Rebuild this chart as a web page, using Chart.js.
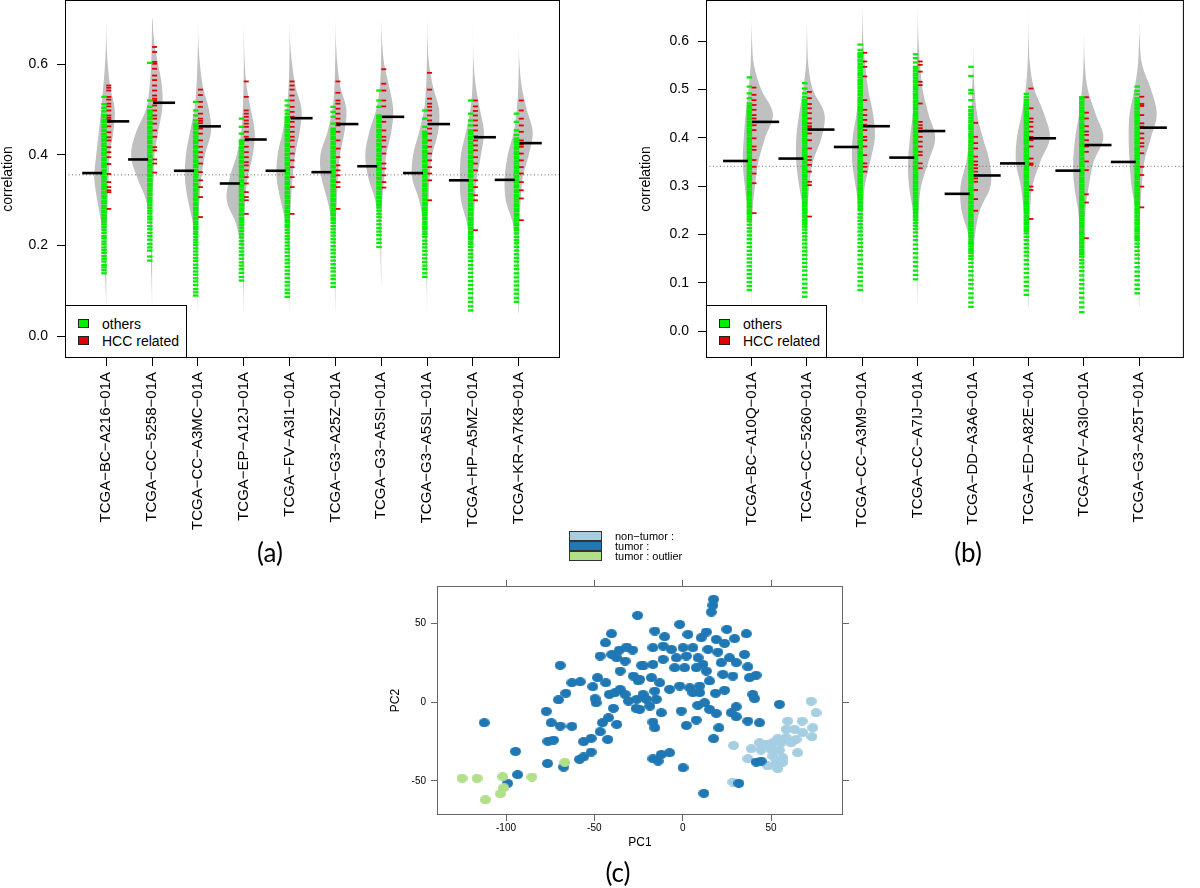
<!DOCTYPE html>
<html>
<head>
<meta charset="utf-8">
<title>Correlation beanplots and PCA</title>
<script src="https://cdn.jsdelivr.net/npm/chart.js@4.4.1/dist/chart.umd.min.js"></script>
<style>
  body { margin: 0; background: #fff; font-family: "Liberation Sans", Arial, sans-serif; }
  #page { position: relative; width: 1200px; height: 888px; overflow: hidden; }
  canvas { position: absolute; }
  .legend { position: absolute; box-sizing: border-box; border: 1px solid #000; background: #fff; font-size: 14px; color: #000; }
  .legend .sw { position: absolute; width: 11px; height: 9px; box-sizing: border-box; border: 1px solid #222; }
  .legend .txt { position: absolute; line-height: 16px; white-space: nowrap; }
  .panel { position: absolute; font-family: Lato, "Open Sans", sans-serif; font-size: 26px; transform: translate(-50%, -50%); }
  .pcaleg { position: absolute; font-size: 11px; line-height: 10px; white-space: nowrap; }
  .pcaleg .blk { position: absolute; left: 0; width: 33px; height: 10px; box-sizing: border-box; border: 1px solid #333; }
  .pcaleg .lbl { position: absolute; left: 46px; }
</style>
</head>
<body>
<div id="page">
  <canvas id="beanA" width="600" height="565" style="left:0;top:-20px"></canvas>
  <canvas id="beanB" width="600" height="565" style="left:600px;top:-20px"></canvas>
  <canvas id="pca" width="500" height="300" style="left:380px;top:560px"></canvas>

  <div class="legend" style="left:65px;top:305px;width:122px;height:53px">
    <div class="sw" style="left:12px;top:13px;background:#00ee00"></div>
    <div class="txt" style="left:36px;top:10px">others</div>
    <div class="sw" style="left:12px;top:30px;background:#e00000"></div>
    <div class="txt" style="left:36px;top:27px">HCC related</div>
  </div>
  <div class="legend" style="left:706px;top:305px;width:121px;height:53px">
    <div class="sw" style="left:12px;top:13px;background:#00ee00"></div>
    <div class="txt" style="left:36px;top:10px">others</div>
    <div class="sw" style="left:12px;top:30px;background:#e00000"></div>
    <div class="txt" style="left:36px;top:27px">HCC related</div>
  </div>

  <div class="pcaleg" style="left:569px;top:531px">
    <div class="blk" style="top:0;background:#a6cee3"></div>
    <div class="blk" style="top:10px;background:#1f78b4"></div>
    <div class="blk" style="top:20px;background:#b2df8a"></div>
    <div class="lbl" style="top:0">non−tumor :</div>
    <div class="lbl" style="top:10px">tumor :</div>
    <div class="lbl" style="top:20px">tumor : outlier</div>
  </div>

  <div class="panel" style="left:270px;top:552px">(a)</div>
  <div class="panel" style="left:968px;top:552px">(b)</div>
  <div class="panel" style="left:618px;top:872px">(c)</div>
</div>

<script>
// ---- panel (a): samples ----
const namesA = ['TCGA−BC−A216−01A', 'TCGA−CC−5258−01A', 'TCGA−CC−A3MC−01A', 'TCGA−EP−A12J−01A', 'TCGA−FV−A3I1−01A',
  'TCGA−G3−A25Z−01A', 'TCGA−G3−A5SI−01A', 'TCGA−G3−A5SL−01A', 'TCGA−HP−A5MZ−01A', 'TCGA−KR−A7K8−01A'];
const yTicksA = [0, 0.2, 0.4, 0.6];
const overallA = 0.356;
const medOthersA = [0.360, 0.390, 0.365, 0.337, 0.365, 0.362, 0.375, 0.360, 0.344, 0.345];
const medHccA = [0.474, 0.515, 0.463, 0.434, 0.481, 0.468, 0.484, 0.468, 0.439, 0.426];

// correlation of each "others" gene (green bean lines)
const othersA = [
  [.139,.146,.152,.157,.165,.171,.177,.184,.190,.196,.203,.209,.216,.221,.228,.235,.241,.247,.253,.258,.262,.267,.273,.277,.283,.288,.294,.298,.304,.309,.315,.319,.325,.330,.335,.341,.346,.351,.357,.362,.367,.373,.378,.383,.389,.393,.399,.404,.410,.414,.420,.425,.431,.435,.441,.446,.452,.456,.462,.467,.473,.477,.483,.488,.496,.504,.512,.528],
  [.167,.176,.189,.196,.204,.213,.221,.228,.236,.243,.251,.258,.264,.271,.277,.283,.289,.295,.300,.305,.311,.315,.321,.326,.332,.336,.342,.347,.353,.357,.363,.368,.374,.378,.384,.389,.395,.399,.405,.410,.416,.420,.426,.431,.437,.441,.447,.452,.458,.462,.468,.473,.479,.483,.489,.494,.498,.506,.520,.603],
  [.090,.097,.104,.113,.121,.128,.136,.143,.151,.158,.166,.173,.180,.187,.194,.201,.207,.213,.219,.226,.231,.237,.241,.247,.252,.258,.262,.268,.273,.279,.283,.289,.294,.300,.304,.310,.315,.321,.325,.331,.336,.342,.346,.352,.357,.363,.367,.373,.378,.384,.388,.394,.399,.405,.409,.415,.420,.426,.430,.436,.441,.447,.451,.457,.462,.466,.469,.476,.487,.498,.517],
  [.123,.131,.140,.148,.156,.163,.171,.179,.187,.195,.203,.210,.218,.225,.232,.239,.245,.251,.256,.261,.267,.271,.277,.282,.288,.292,.298,.303,.309,.313,.319,.324,.330,.334,.340,.345,.351,.355,.361,.366,.372,.376,.382,.387,.393,.397,.403,.408,.414,.418,.424,.429,.432,.447,.462,.480],
  [.087,.095,.103,.112,.120,.129,.137,.145,.153,.161,.169,.177,.185,.192,.200,.207,.214,.221,.228,.235,.241,.246,.252,.256,.262,.267,.273,.277,.283,.288,.294,.298,.304,.309,.315,.319,.325,.330,.336,.340,.346,.351,.357,.361,.367,.372,.378,.382,.388,.393,.399,.403,.409,.414,.420,.424,.430,.435,.441,.445,.451,.456,.462,.466,.472,.477,.481,.484,.491,.498,.509,.520],
  [.109,.117,.126,.134,.143,.151,.159,.167,.175,.183,.191,.199,.207,.214,.222,.229,.236,.243,.250,.256,.261,.267,.271,.277,.282,.288,.292,.298,.303,.309,.313,.319,.324,.330,.334,.340,.345,.351,.355,.361,.366,.372,.376,.382,.387,.393,.397,.403,.408,.414,.418,.424,.429,.435,.439,.445,.450,.455,.458,.469,.484,.495,.506],
  [.197,.206,.214,.223,.231,.239,.247,.255,.263,.270,.277,.284,.289,.293,.298,.304,.308,.314,.319,.325,.329,.335,.340,.346,.350,.356,.361,.367,.371,.377,.382,.388,.392,.398,.403,.409,.413,.419,.424,.430,.434,.440,.445,.451,.455,.461,.466,.472,.476,.481,.484,.487,.506,.520,.542],
  [.131,.139,.148,.156,.164,.172,.180,.188,.196,.204,.211,.219,.226,.231,.237,.241,.247,.252,.258,.262,.268,.273,.279,.283,.289,.294,.300,.304,.310,.315,.321,.325,.331,.336,.342,.346,.352,.357,.363,.367,.373,.378,.384,.388,.394,.399,.405,.409,.415,.420,.426,.430,.436,.441,.445,.447,.451,.462,.480,.498],
  [.057,.066,.076,.085,.095,.104,.113,.122,.131,.140,.149,.157,.166,.174,.182,.190,.197,.204,.209,.215,.219,.225,.230,.236,.240,.246,.251,.257,.261,.267,.272,.278,.282,.288,.293,.299,.303,.309,.314,.320,.324,.330,.335,.341,.345,.351,.356,.362,.366,.372,.377,.383,.387,.393,.398,.404,.408,.414,.419,.425,.429,.435,.440,.446,.450,.454,.465,.476,.491,.520],
  [.076,.085,.094,.103,.112,.121,.130,.139,.148,.156,.165,.173,.181,.189,.197,.205,.212,.219,.227,.234,.239,.245,.249,.255,.260,.266,.270,.276,.281,.287,.291,.297,.302,.308,.312,.318,.323,.329,.333,.339,.344,.350,.354,.360,.365,.371,.375,.381,.386,.392,.396,.402,.407,.413,.417,.423,.428,.432,.436,.444,.454,.473,.491]
];
// correlation of each HCC related gene (red bean lines)
const hccA = [
  [.281,.318,.322,.329,.340,.358,.380,.395,.406,.417,.432,.439,.450,.463,.473,.478,.482,.487,.498,.507,.513,.522,.528,.542,.548,.553],
  [.361,.381,.390,.410,.417,.440,.454,.469,.480,.487,.498,.509,.520,.524,.531,.542,.553,.565,.575,.590,.601,.605,.627,.638],
  [.263,.307,.329,.344,.362,.381,.395,.406,.418,.432,.447,.458,.463,.470,.475,.480,.491,.506,.517,.532,.544],
  [.270,.300,.307,.318,.337,.351,.366,.377,.384,.395,.406,.418,.432,.440,.451,.462,.469,.476,.484,.491,.498,.528,.562],
  [.270,.329,.351,.373,.388,.403,.418,.432,.440,.451,.462,.473,.484,.495,.506,.520,.531,.544,.553,.562],
  [.281,.329,.340,.355,.366,.377,.395,.414,.432,.451,.465,.470,.480,.491,.502,.513,.520,.537,.562],
  [.328,.340,.355,.370,.381,.403,.418,.432,.440,.454,.473,.484,.507,.520,.542,.557,.589],
  [.300,.344,.359,.373,.388,.403,.418,.432,.447,.458,.468,.476,.487,.498,.506,.513,.524,.544,.581],
  [.234,.300,.311,.329,.344,.366,.381,.395,.410,.421,.432,.441,.454,.465,.476,.487,.497,.507,.520],
  [.256,.304,.322,.340,.359,.373,.388,.403,.418,.423,.426,.432,.451,.465,.480,.498,.520]
];

// bean densities, read at these correlation levels
const beanLevels = [0.05, 0.10, 0.15, 0.20, 0.25, 0.30, 0.35, 0.40, 0.45, 0.50, 0.55, 0.60, 0.65, 0.70];
const densOthersA = [
  [0,0.5,1.5,2.5,5,9,12,10,7.5,5,3,1.2,0.3,0],
  [0,0.3,1,1.5,2.5,6,15,21,16,6,2.5,1,0.3,0],
  [0,0.5,1.5,2.5,5,10,13,12,8,3.5,1.5,0.5,0,0],
  [0,0.5,1.5,3,8,17,14,7,2.5,1,0.3,0,0,0],
  [0,0.5,1,2,4,9,13,12,7,3,1,0.3,0,0],
  [0,0.5,1,2,3.5,8,14,15,8,3,1,0.3,0,0],
  [0,0,0.5,1,2.5,6,13,16,12,5,1.5,0.3,0,0],
  [0,0.3,1,2,4,8,15,14,8,3,1,0.3,0,0],
  [0.5,1,1.5,3,6,12,13,12,7,2.5,0.5,0,0,0],
  [0.3,1,1.5,3,6,13,14,11,5,2,0.5,0,0,0]
];
const densHccA = [
  [0,0,0,0,0.5,1.5,2.5,3.5,7,8.5,4,1.5,0.3,0],
  [0,0,0,0,0,0,1.5,2.5,6,10,10,6,2,0.5],
  [0,0,0,0,0.5,1.5,3.5,7,13,11,5,2,0.5,0],
  [0,0,0,0,0.5,1.5,4,9,11,7,3,1,0.3,0],
  [0,0,0,0,0.3,1.5,3,5.5,10,12,6,2.5,0.5,0],
  [0,0,0,0,0.3,1.5,2.5,4.5,9,11,5,2,0.5,0],
  [0,0,0,0,0,1,3,5,10,12,8,3,0.8,0],
  [0,0,0,0,0.3,1.5,2.5,5,11,12,6,2,0.5,0],
  [0,0,0,0.3,1,2,4,8,11,7,3,0.8,0,0],
  [0,0,0,0,0.5,2,4,10,14,8,3,0.8,0,0]
];

// ---- panel (b): samples ----
const namesB = ['TCGA−BC−A10Q−01A', 'TCGA−CC−5260−01A', 'TCGA−CC−A3M9−01A', 'TCGA−CC−A7IJ−01A',
  'TCGA−DD−A3A6−01A', 'TCGA−ED−A82E−01A', 'TCGA−FV−A3I0−01A', 'TCGA−G3−A25T−01A'];
const yTicksB = [0, 0.1, 0.2, 0.3, 0.4, 0.5, 0.6];
const overallB = 0.341;
const medOthersB = [0.352, 0.357, 0.381, 0.359, 0.284, 0.347, 0.332, 0.350];
const medHccB = [0.433, 0.417, 0.424, 0.414, 0.322, 0.399, 0.385, 0.421];

const othersB = [
  [.085,.093,.101,.110,.118,.126,.134,.142,.150,.158,.166,.174,.182,.190,.198,.206,.213,.220,.227,.232,.237,.242,.246,.251,.256,.260,.265,.270,.274,.279,.284,.288,.293,.298,.302,.307,.312,.316,.321,.326,.330,.335,.340,.344,.349,.354,.358,.363,.368,.372,.377,.382,.386,.391,.396,.400,.405,.410,.414,.419,.424,.428,.433,.438,.442,.447,.452,.456,.461,.466,.471,.482,.492,.506,.525],
  [.071,.080,.089,.098,.107,.116,.125,.133,.141,.149,.157,.165,.173,.181,.189,.196,.203,.210,.216,.221,.225,.230,.235,.239,.244,.249,.253,.258,.263,.267,.272,.277,.281,.286,.291,.295,.300,.305,.309,.314,.319,.323,.328,.333,.337,.342,.347,.351,.356,.361,.365,.370,.375,.379,.384,.389,.393,.398,.403,.407,.412,.417,.421,.426,.431,.435,.440,.445,.449,.454,.459,.463,.468,.473,.478,.484,.492,.502,.513],
  [.085,.094,.103,.112,.121,.130,.139,.148,.157,.166,.174,.182,.190,.198,.206,.214,.221,.228,.235,.242,.250,.254,.259,.264,.268,.273,.278,.282,.287,.292,.296,.301,.306,.310,.315,.320,.324,.329,.334,.338,.343,.348,.352,.357,.362,.366,.371,.376,.380,.385,.390,.394,.399,.404,.408,.413,.418,.422,.427,.432,.436,.441,.446,.450,.455,.460,.464,.469,.474,.478,.483,.488,.492,.497,.502,.506,.511,.516,.520,.525,.530,.534,.539,.544,.548,.553,.558,.562,.567,.571,.575,.582,.593],
  [.107,.116,.125,.134,.143,.152,.161,.170,.179,.188,.196,.204,.211,.218,.224,.230,.235,.239,.244,.249,.253,.258,.263,.267,.272,.277,.281,.286,.291,.295,.300,.305,.309,.314,.319,.323,.328,.333,.337,.342,.347,.351,.356,.361,.365,.370,.375,.379,.384,.389,.393,.398,.403,.407,.412,.417,.421,.426,.431,.435,.440,.445,.449,.454,.459,.463,.468,.473,.477,.482,.487,.491,.496,.501,.505,.510,.515,.519,.524,.529,.533,.538,.543,.547,.556,.565,.573],
  [.050,.059,.069,.078,.088,.097,.106,.115,.124,.133,.141,.149,.155,.161,.166,.170,.175,.180,.184,.189,.194,.198,.203,.208,.212,.217,.222,.226,.231,.236,.240,.245,.250,.254,.259,.264,.268,.273,.278,.282,.287,.292,.296,.301,.306,.310,.315,.320,.324,.329,.334,.338,.343,.348,.352,.357,.362,.366,.371,.376,.380,.385,.390,.394,.399,.404,.408,.413,.418,.422,.427,.432,.436,.441,.446,.450,.455,.458,.464,.478,.492,.499,.528,.547],
  [.075,.084,.093,.102,.111,.120,.129,.138,.147,.156,.164,.172,.180,.188,.195,.202,.207,.211,.216,.221,.225,.230,.235,.239,.244,.249,.253,.258,.263,.267,.272,.277,.281,.286,.291,.295,.300,.305,.309,.314,.319,.323,.328,.333,.337,.342,.347,.351,.356,.361,.365,.370,.375,.379,.384,.389,.393,.398,.403,.407,.412,.417,.421,.426,.431,.435,.440,.445,.449,.454,.459,.463,.468,.473,.478,.484,.491],
  [.039,.049,.059,.069,.079,.088,.097,.106,.115,.124,.132,.140,.147,.154,.159,.163,.168,.173,.177,.182,.187,.191,.196,.201,.205,.210,.215,.219,.224,.229,.233,.238,.243,.247,.252,.257,.261,.266,.271,.275,.280,.285,.289,.294,.299,.303,.308,.313,.317,.322,.327,.331,.336,.341,.345,.350,.355,.359,.364,.369,.373,.378,.383,.387,.392,.397,.401,.406,.411,.415,.420,.425,.429,.434,.439,.443,.448,.453,.457,.462,.467,.471,.475,.480,.484],
  [.078,.087,.096,.105,.114,.123,.132,.141,.150,.158,.166,.174,.181,.188,.193,.197,.202,.207,.211,.216,.221,.225,.230,.235,.239,.244,.249,.253,.258,.263,.267,.272,.277,.281,.286,.291,.295,.300,.305,.309,.314,.319,.323,.328,.333,.337,.342,.347,.351,.356,.361,.365,.370,.375,.379,.384,.389,.393,.398,.403,.407,.412,.417,.421,.426,.431,.435,.440,.445,.449,.454,.459,.463,.468,.473,.477,.482,.490,.497,.506]
];
const hccB = [
  [.244,.306,.326,.340,.354,.375,.382,.399,.416,.426,.433,.440,.447,.458,.468,.478,.489,.504],
  [.237,.302,.309,.330,.344,.354,.361,.378,.395,.409,.420,.424,.430,.440,.451,.461,.470,.482,.495],
  [.330,.340,.347,.364,.382,.395,.402,.416,.427,.437,.447,.458,.478,.527,.547,.558,.576],
  [.337,.347,.364,.371,.382,.392,.402,.413,.420,.426,.433,.471,.509,.516,.537,.551,.558],
  [.249,.273,.292,.309,.316,.323,.330,.337,.344,.351,.361,.378,.389,.402,.431],
  [.232,.292,.299,.344,.347,.357,.382,.395,.402,.413,.423,.433,.440,.461,.502],
  [.192,.266,.283,.333,.351,.371,.382,.395,.406,.413,.424,.440,.452,.484],
  [.256,.299,.323,.340,.368,.382,.389,.399,.409,.423,.430,.447,.466,.470,.485]
];
const densOthersB = [
  [0,0.5,1,2,4,7,9,8,6,3,1,0.3,0,0],
  [0,0.5,1,2,4,8,11,11,8,4,1,0.3,0,0],
  [0,0.5,1,2,3.5,7,10.5,10,6,3,1.5,0.5,0,0],
  [0,0.5,1,2,5,9,10,8,5,2.5,1,0.3,0,0],
  [0.3,1,2,5,12,13,7,4,2,1,0.3,0,0,0],
  [0.3,0.8,1.5,2.5,5,8,13,12,7,3,1,0.3,0,0],
  [0.5,1,2.5,4,6,10,11,9,5,2,0.5,0,0,0],
  [0.3,0.8,1.5,2.5,4,8,10,11,10,5,1.5,0.3,0,0]
];
const densHccB = [
  [0,0,0,0,1,3.5,7,14,22,10,2.5,0.5,0,0],
  [0,0,0,0,0.5,2.5,6,15,18,6,1.5,0.3,0,0],
  [0,0,0,0,0.5,2.5,8,13,11,6,3,1,0.3,0],
  [0,0,0,0,1,3.5,11,18,11,5,2.5,0.8,0.2,0],
  [0,0,0.3,2,7,18,17,10,4,1.5,0.3,0,0,0],
  [0,0,0,0.3,1.5,4,12,22,16,6,1.5,0.3,0,0],
  [0,0,0,0.5,1.5,5,10,20,12,4,1,0.2,0,0],
  [0,0,0,0,1,2.5,5,12,18,12,3,0.5,0,0]
];

// ---- panel (c): PCA scores ----
const nonTumorPC1 = [72.7,75.5,59.5,67.6,73.6,58.6,63.3,67.9,73.2,53.8,58.6,64.2,47.3,51.0,55.7,61.4,28.8,38.8,44.4,50.1,54.8,65.1,36.9,51.0,56.7,48.2,53.8,56.7,28.4,52.9,43.5];
const nonTumorPC2 = [0.5,-6.8,-12.1,-12.1,-16.3,-17.3,-17.3,-19.4,-22.0,-23.2,-22.6,-23.7,-26.8,-25.8,-25.8,-25.8,-27.5,-29.6,-30.4,-30.0,-30.4,-32.1,-35.9,-34.2,-35.3,-40.5,-42.2,-38.0,-50.7,-38.4,-25.8];
const tumorPC1 = [-112.3,-94.6,-93.4,-99.1,-76.5,-67.4,-77.2,-74.4,-69.3,-62.7,-76.3,-73.1,-69.3,-70.3,-66.1,-62.7,-58.0,-58.4,-56.1,-51.8,-56.1,-51.8,-46.7,-42.4,-45.4,-42.0,-37.3,-39.2,-49.0,-49.6,-50.9,-48.2,-43.5,-46.7,-43.7,-40.3,-41.5,-38.3,-35.4,-32.6,-30.7,-26.4,-26.0,-35.4,-32.6,-37.3,-40.1,-35.8,-31.7,-28.3,-27.9,-25.1,-25.5,-23.2,
  17.5,17.1,16.2,-1.7,-15.8,3.0,13.4,25.0,36.0,-10.2,10.5,19.0,29.4,23.7,-16.8,-11.1,-6.4,0.2,5.8,14.3,19.9,35.0,-22.4,-16.8,-11.1,-3.6,2.1,8.7,11.5,21.8,26.5,30.3,36.9,41.6,37.8,-4.5,1.1,7.7,13.4,22.8,28.4,-24.3,-17.7,-13.0,-7.4,-1.7,4.0,9.6,15.2,-22.4,-15.8,-20.5,-14.9,5.8,9.6,18.6,23.7,39.7,40.7,-24.3,-18.6,-12.1,-0.8,8.6,12.4,15.2,19.0,27.5,30.3,30.3,54.8,-16.8,-15.8,2.1,7.7,20.5,36.9,43.5,17.5,-16.8,-12.1,-7.4,-13.9,0.2,41.6,44.4,31.8,12.0];
const tumorPC2 = [-13.1,-31.3,-46.0,-51.5,-38.9,-41.2,-5.9,-13.1,-15.2,-15.4,-24.9,-24.1,23.2,1.4,5.5,12.2,12.8,-36.3,-34.8,-31.7,-25.1,-23.0,-18.8,-23.7,-13.1,-9.9,-14.2,-4.0,-0.5,2.1,9.7,15.4,12.2,29.1,37.5,43.2,4.8,5.9,8.0,4.8,0.6,-4.0,1.7,19.6,25.9,28.0,30.1,32.9,34.8,32.9,16.4,13.3,54.8,23.2,
  65.0,61.2,56.9,49.1,44.9,42.8,44.3,46.0,43.2,41.3,40.7,39.6,40.1,37.1,34.4,35.4,33.3,34.4,34.4,33.3,31.6,30.1,22.8,23.8,27.0,28.0,29.1,28.0,23.8,24.9,28.0,24.9,22.3,16.9,15.4,21.7,21.7,21.7,19.6,17.5,16.4,14.3,15.4,12.2,8.0,10.1,9.0,10.1,13.3,4.8,6.9,1.7,1.7,5.9,5.9,5.5,7.4,4.8,2.1,-4.7,-2.6,-6.8,-5.7,-2.1,-0.5,-4.7,-7.2,-6.8,-3.0,-9.3,-1.5,-12.7,-16.3,-14.8,-11.4,-16.3,-12.1,-13.1,-23.2,-35.9,-33.2,-32.1,-37.4,-41.6,-38.0,-37.4,-51.5,-57.8];
const outlierPC1 = [-124.9,-116.4,-101.9,-85.3,-101.3,-103.2,-111.7,-66.7];
const outlierPC2 = [-48.3,-48.3,-47.3,-47.5,-54.3,-58.1,-61.9,-38.2];
const pcaTicksX = [-100, -50, 0, 50];
const pcaTicksY = [-50, 0, 50];

Chart.defaults.font.family = '"Liberation Sans", Arial, sans-serif';
Chart.defaults.color = '#000';

// R-style box round the plotting region
const boxPlugin = {
  id: 'box',
  afterDraw(chart, args, opts) {
    const {ctx, chartArea: a} = chart;
    ctx.save();
    ctx.strokeStyle = opts.color || '#000';
    ctx.lineWidth = 1;
    ctx.strokeRect(a.left + 0.5, a.top + 0.5, a.right - a.left - 1, a.bottom - a.top - 1);
    ctx.restore();
  }
};

const fitY = w => s => { s.width = w; s.paddingTop = 0; s.paddingBottom = 0; };
const fitX = h => s => { s.height = h; s.paddingLeft = 0; s.paddingRight = 0; };

function beanChart(id, p) {
  const canvas = document.getElementById(id);
  const W = canvas.width, H = canvas.height;
  const pxPerUnit = (p.right - p.left) / (p.xMax - p.xMin);
  const u = px => px / pxPerUnit;
  const beanWidth = 1;
  const datasets = [];

  p.names.forEach((name, i) => {
    const c = i + 1, outline = [];
    for (let k = beanLevels.length - 1; k >= 0; k--)
      outline.push({x: c - u(p.densL[i][k] * beanWidth), y: beanLevels[k]});
    for (let k = 0; k < beanLevels.length; k++)
      outline.push({x: c + u(p.densR[i][k] * beanWidth), y: beanLevels[k]});
    datasets.push({data: outline, showLine: true, fill: 'shape', backgroundColor: '#c0c0c0',
      borderColor: 'rgba(0,0,0,0)', borderWidth: 0, pointRadius: 0, tension: 0.35, order: 4});
  });

  datasets.push({data: [{x: p.xMin, y: p.overall}, {x: p.xMax, y: p.overall}], showLine: true,
    borderColor: '#707070', borderWidth: 1, borderDash: [1, 2.5], pointRadius: 0, order: 3});

  const green = [], red = [];
  p.others.forEach((vals, i) => vals.forEach(v => green.push({x: i + 1 + u(-2.25), y: v})));
  p.hcc.forEach((vals, i) => vals.forEach(v => red.push({x: i + 1 + u(2.5), y: v})));
  datasets.push({data: green, pointStyle: 'line', pointRadius: 2.75, pointBorderWidth: 2.3, pointBorderColor: '#00ee00', order: 2});
  datasets.push({data: red, pointStyle: 'line', pointRadius: 2.5, pointBorderWidth: 1.8, pointBorderColor: '#e00000', order: 2});

  datasets.push({data: p.medL.map((m, i) => ({x: i + 1 + u(p.medLOff), y: m})), pointStyle: 'line',
    pointRadius: p.medLHalf, pointBorderWidth: 2.6, pointBorderColor: '#000', order: 1});
  datasets.push({data: p.medR.map((m, i) => ({x: i + 1 + u(p.medROff), y: m})), pointStyle: 'line',
    pointRadius: p.medRHalf, pointBorderWidth: 2.6, pointBorderColor: '#000', order: 1});

  return new Chart(canvas, {
    type: 'scatter',
    data: {datasets},
    plugins: [boxPlugin],
    options: {
      responsive: false, animation: false, events: [], devicePixelRatio: 1,
      layout: {padding: {top: p.top, right: W - p.right, left: 0, bottom: 0}},
      plugins: {legend: {display: false}, tooltip: {enabled: false}, box: {color: '#000'}},
      scales: {
        x: {
          type: 'linear', min: p.xMin, max: p.xMax,
          afterBuildTicks: s => { s.ticks = p.names.map((n, i) => ({value: i + 1})); },
          afterFit: fitX(H - p.bottom),
          ticks: {callback: (v, i) => p.names[i], autoSkip: false, minRotation: 90, maxRotation: 90,
            padding: 6, color: '#000', font: {size: 15}},
          grid: {drawOnChartArea: false, tickLength: 8, color: '#000'},
          border: {display: false}
        },
        y: {
          type: 'linear', min: p.yMin, max: p.yMax,
          afterBuildTicks: s => { s.ticks = p.yTicks.map(v => ({value: v})); },
          afterFit: fitY(p.left),
          ticks: {callback: v => v.toFixed(1), padding: 9, color: '#000', font: {size: 14}},
          grid: {drawOnChartArea: false, tickLength: 8, color: '#000'},
          border: {display: false},
          title: {display: true, text: 'correlation', color: '#000', font: {size: 14}, padding: p.titlePad}
        }
      }
    }
  });
}

// the canvases start 20px above the page so the plot box can sit on the top edge
beanChart('beanA', {
  names: namesA, others: othersA, hcc: hccA, densL: densOthersA, densR: densHccA,
  medL: medOthersA, medR: medHccA, overall: overallA, yTicks: yTicksA,
  xMin: 0.1, xMax: 10.9, yMin: -0.0478, yMax: 0.7416,
  left: 65, right: 560, top: 20, bottom: 378, titlePad: 0,
  medLOff: -14, medLHalf: 10, medROff: 12, medRHalf: 11
});

beanChart('beanB', {
  names: namesB, others: othersB, hcc: hccB, densL: densOthersB, densR: densHccB,
  medL: medOthersB, medR: medHccB, overall: overallB, yTicks: yTicksB,
  xMin: 0.1775, xMax: 8.805, yMin: -0.0559, yMax: 0.6853,
  left: 106, right: 599, top: 20, bottom: 378, titlePad: 38,
  medLOff: -16.5, medLHalf: 12.5, medROff: 14.5, medRHalf: 13.5
});

// elliptical dots like the lattice output
function dot(color) {
  const c = document.createElement('canvas');
  c.width = 11; c.height = 9;
  const g = c.getContext('2d');
  g.fillStyle = color;
  g.beginPath();
  g.ellipse(5.5, 4.5, 5.5, 4.5, 0, 0, Math.PI * 2);
  g.fill();
  return c;
}

const pts = (xs, ys) => xs.map((x, i) => ({x, y: ys[i]}));
const pcaAxis = (pos, ticks, show, fit) => ({
  type: 'linear', position: pos,
  afterBuildTicks: s => { s.ticks = ticks.map(v => ({value: v})); },
  afterFit: fit,
  ticks: {display: show, padding: pos === 'left' ? 5 : 1, color: '#000', font: {size: 10}},
  grid: {drawOnChartArea: false, tickLength: 6, color: '#666'},
  border: {display: false}
});

const sx = pcaAxis('bottom', pcaTicksX, true, fitX(45));
sx.title = {display: true, text: 'PC1', color: '#000', font: {size: 12}, padding: 10};
const sy = pcaAxis('left', pcaTicksY, true, fitY(57));
sy.title = {display: true, text: 'PC2', color: '#000', font: {size: 12}, padding: 8};
const sx2 = pcaAxis('top', pcaTicksX, false, fitX(26));
const sy2 = pcaAxis('right', pcaTicksY, false, fitY(37));
[sx, sx2].forEach(a => { a.min = -139.06; a.max = 90.75; });
[sy, sy2].forEach(a => { a.min = -71.52; a.max = 73.42; });

new Chart(document.getElementById('pca'), {
  type: 'scatter',
  data: {
    datasets: [
      {label: 'tumor : outlier', data: pts(outlierPC1, outlierPC2), pointStyle: dot('#b2df8a'), order: 1},
      {label: 'tumor :', data: pts(tumorPC1, tumorPC2), pointStyle: dot('#1f78b4'), order: 2},
      {label: 'non-tumor :', data: pts(nonTumorPC1, nonTumorPC2), pointStyle: dot('#a6cee3'), order: 3}
    ]
  },
  plugins: [boxPlugin],
  options: {
    responsive: false, animation: false, events: [], devicePixelRatio: 1,
    layout: {padding: 0},
    plugins: {legend: {display: false}, tooltip: {enabled: false}, box: {color: '#666'}},
    scales: {x: sx, y: sy, x2: sx2, y2: sy2}
  }
});
</script>
</body>
</html>
